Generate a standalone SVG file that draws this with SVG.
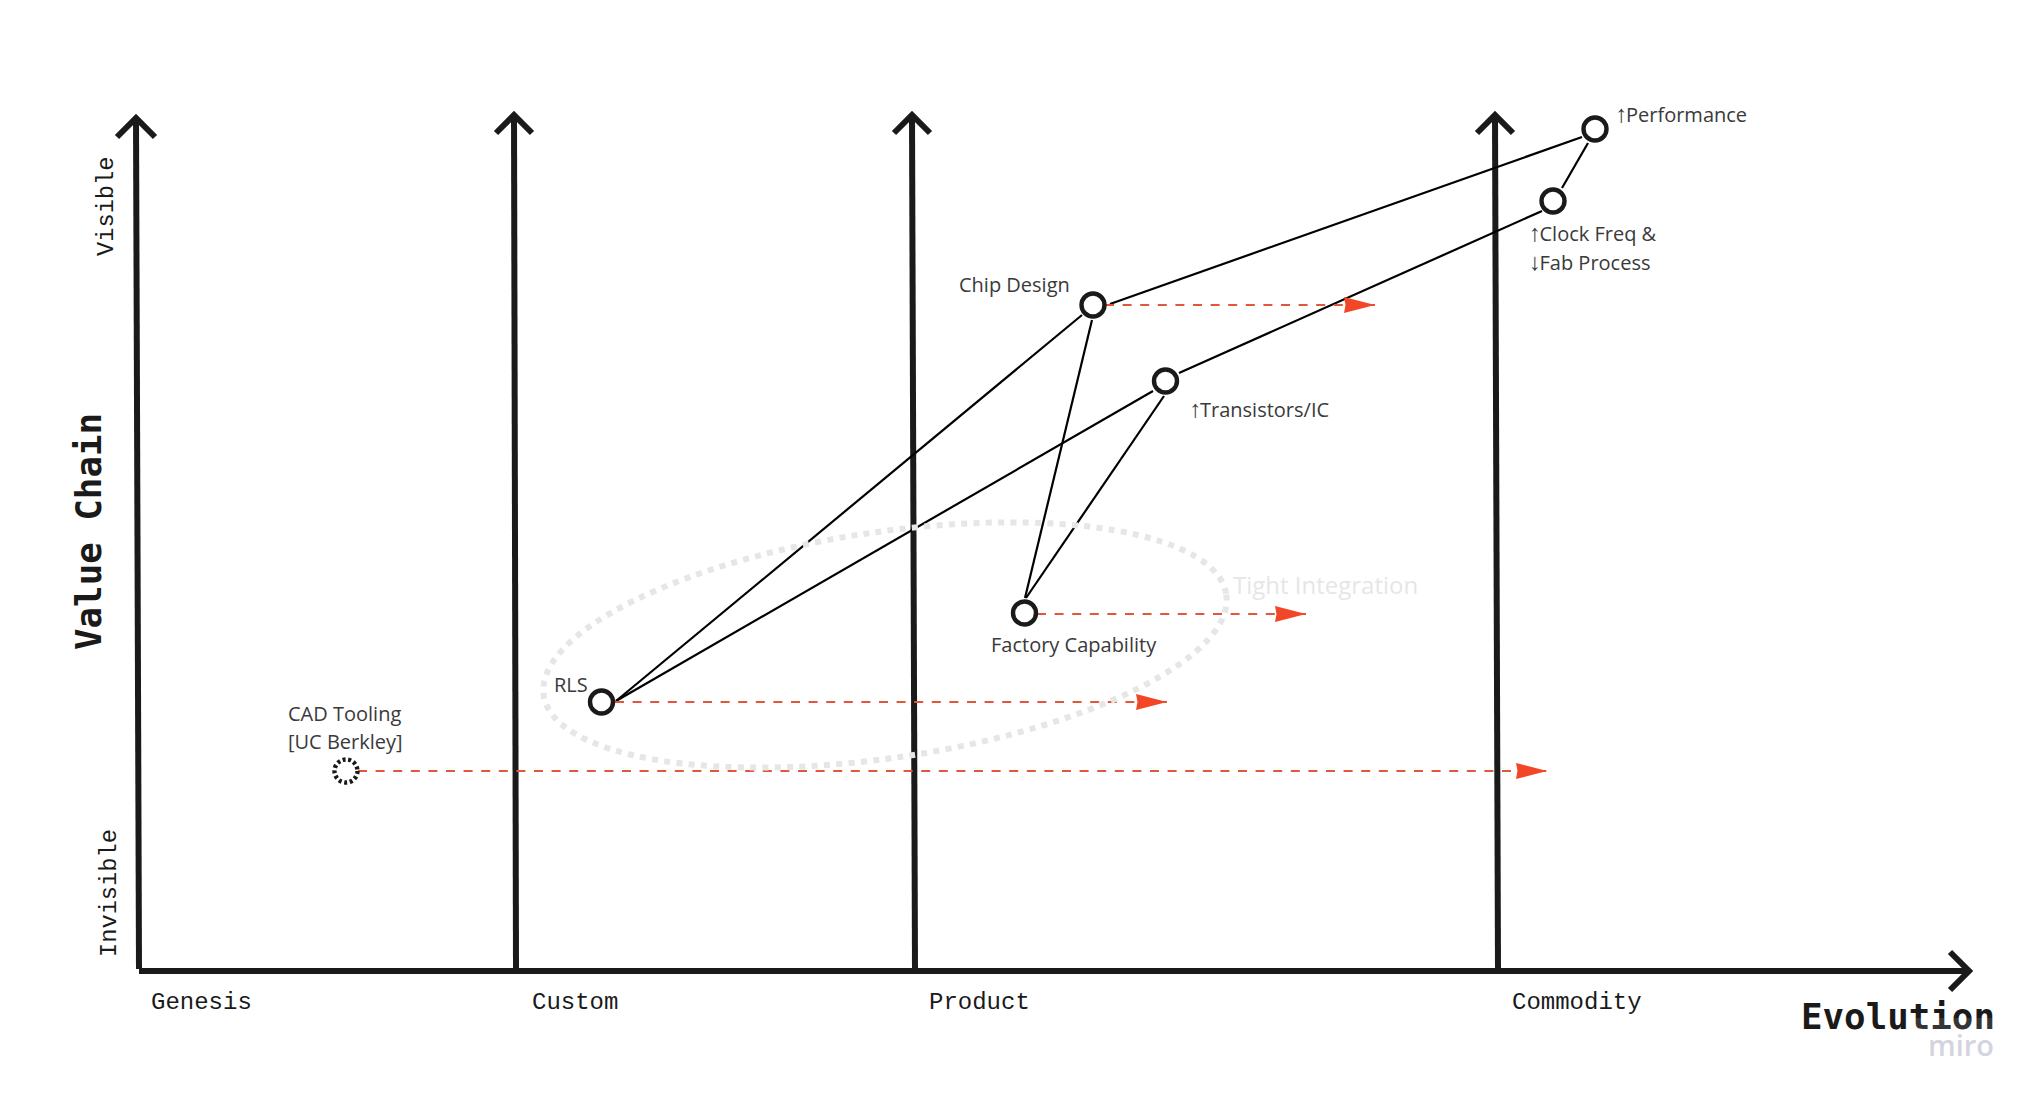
<svg xmlns="http://www.w3.org/2000/svg" width="2040" height="1102" viewBox="0 0 2040 1102">
<style>
.axis{fill:none;stroke:#1a1a1a;stroke-width:6;stroke-linejoin:miter}
.link{stroke:#000;stroke-width:2.2;fill:none}
.move{stroke:#e0573c;stroke-width:2.2;stroke-dasharray:9 8.6;fill:none;marker-end:url(#head)}
.node{fill:#fff;stroke:#1a1a1a;stroke-width:4.4}
.mono{font-family:"Liberation Mono","DejaVu Sans Mono",monospace;fill:#1a1a1a}
.sm{font-size:24px}
.side{font-size:23.7px}
.big{font-family:"DejaVu Sans Mono","Liberation Mono",monospace;font-size:35.8px;font-weight:700;fill:#1a1a1a}
.lab{font-family:"Open Sans","Noto Sans",sans-serif;font-size:20px;fill:#3a3a3a}
.arr{font-family:"Liberation Sans",sans-serif;font-size:24px}
</style>
<defs>
<marker id="head" markerUnits="userSpaceOnUse" markerWidth="32" markerHeight="18" viewBox="0 0 32 18" refX="31" refY="9" orient="auto">
<path d="M0 1L31 9L0 17L1.500 9Z" fill="#f24726"/>
</marker>
</defs>
<rect width="2040" height="1102" fill="#fff"/>
<g id="axes">
<path class="axis" d="M136 118L139 969"/>
<path class="axis" d="M117 137L136 118L155 137"/>
<path class="axis" d="M514 115L516 969"/>
<path class="axis" d="M496 133L514 115L532 133"/>
<path class="axis" d="M912 115L915 969"/>
<path class="axis" d="M894 133L912 115L930 133"/>
<path class="axis" d="M1495 115L1498 969"/>
<path class="axis" d="M1477 133L1495 115L1513 133"/>
<path class="axis" d="M139 971L1968 971"/>
<path class="axis" d="M1950 952L1969 971L1950 990"/>
</g>
<g id="connectors">
<line class="link" x1="1582" y1="137" x2="1110" y2="304"/>
<line class="link" x1="1588" y1="143" x2="1562" y2="188"/>
<line class="link" x1="1542" y1="211" x2="1179" y2="373"/>
<line class="link" x1="1153" y1="391" x2="616" y2="701"/>
<line class="link" x1="1164" y1="396" x2="1026" y2="598"/>
<line class="link" x1="1092" y1="320" x2="1025" y2="598"/>
<line class="link" x1="1082" y1="315" x2="616" y2="701"/>
<line class="move" x1="1105" y1="305" x2="1375" y2="305"/>
<line class="move" x1="1037" y1="614" x2="1306" y2="614"/>
<line class="move" x1="615" y1="702" x2="1167" y2="702"/>
<line class="move" x1="358" y1="771" x2="1547" y2="771"/>
</g>
<g id="tight-integration">
<ellipse cx="885" cy="645" rx="345" ry="113" transform="rotate(-8.4 885 645)" fill="none" stroke="#e6e6e6" stroke-width="6" stroke-dasharray="6 6.300"/>
<text x="1233" y="594" font-family="Open Sans, Noto Sans, sans-serif" font-size="24" fill="#e6e6e6">Tight Integration</text>
</g>
<g id="performance"><circle class="node" cx="1595" cy="129" r="11.500"/><text class="lab" x="1615.500" y="121.500"><tspan class="arr">↑</tspan><tspan dx="-1.500">Performance</tspan></text></g>
<g id="clock-freq"><circle class="node" cx="1553" cy="201" r="11.500"/><text class="lab" x="1529" y="241"><tspan class="arr">↑</tspan><tspan dx="-1.500">Clock Freq &amp;</tspan></text><text class="lab" x="1529" y="270"><tspan class="arr">↓</tspan><tspan dx="-1.500">Fab Process</tspan></text></g>
<g id="chip-design"><circle class="node" cx="1093" cy="305" r="11.500"/><text class="lab" x="959" y="292">Chip Design</text></g>
<g id="transistors"><circle class="node" cx="1165.500" cy="381" r="11.500"/><text class="lab" x="1189.500" y="417"><tspan class="arr">↑</tspan><tspan dx="-1.500">Transistors/IC</tspan></text></g>
<g id="factory"><circle class="node" cx="1024.500" cy="613" r="11.500"/><text class="lab" x="991" y="652">Factory Capability</text></g>
<g id="rls"><circle class="node" cx="601.500" cy="702" r="11.500"/><text class="lab" x="554" y="692">RLS</text></g>
<g id="cad"><circle class="node" cx="346" cy="771" r="11.500" stroke-dasharray="3 2.600"/><text class="lab" x="288" y="721">CAD Tooling</text><text class="lab" x="288" y="749">[UC Berkley]</text></g>
<g id="labels">
<text class="mono side" transform="translate(112.500 256) rotate(-90)">Visible</text>
<text class="mono side" transform="translate(115.500 957) rotate(-90)">Invisible</text>
<text class="big" transform="translate(101 650) rotate(-90)">Value Chain</text>
<text class="mono sm" x="151" y="1009">Genesis</text>
<text class="mono sm" x="532" y="1009">Custom</text>
<text class="mono sm" x="929" y="1009">Product</text>
<text class="mono sm" x="1512" y="1009">Commodity</text>
<text class="big" x="1801" y="1029">Evolution</text>
</g>
<g id="watermark">
<rect x="1915" y="1018" width="80" height="40" fill="#fff" opacity=".12"/>
<text x="1928" y="1056" font-family="Open Sans, Noto Sans, sans-serif" font-size="29px" font-weight="600" fill="#d4d4e0">miro</text>
</g>
</svg>
